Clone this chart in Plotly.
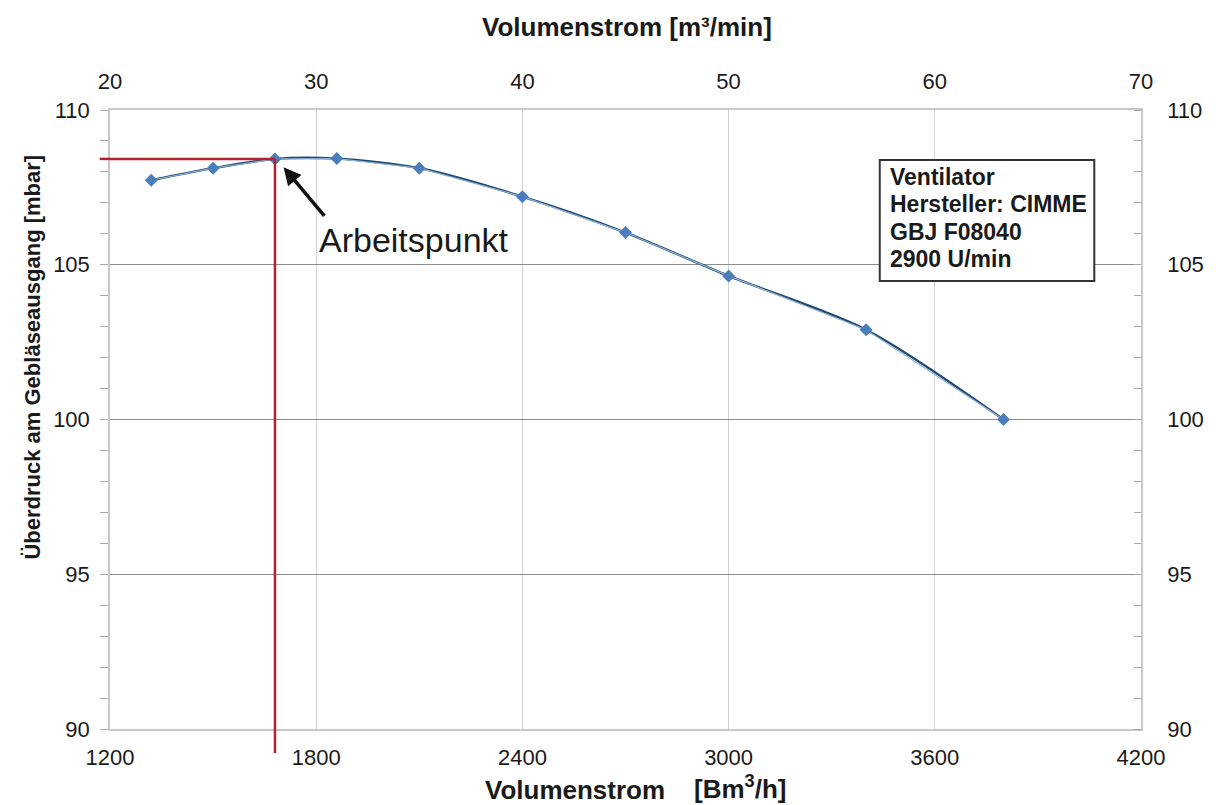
import plotly.graph_objects as go

# Fan characteristic: volume flow [Bm³/h] vs. pressure at blower outlet [mbar]
flow_m3h = [1320, 1500, 1680, 1860, 2100, 2400, 2700, 3000, 3400, 3800]
pressure_mbar = [107.73, 108.12, 108.42, 108.43, 108.12, 107.2, 106.04, 104.64, 102.9, 100.0]

# operating point
op_flow = 1680
op_pressure = 108.42

x_ticks_h = [1200, 1800, 2400, 3000, 3600, 4200]
x_ticks_min = [20, 30, 40, 50, 60, 70]
y_ticks = [90, 95, 100, 105, 110]

info_lines = ["Ventilator", "Hersteller: CIMME", "GBJ F08040", "2900 U/min"]

FONT = "Arial, Liberation Sans, sans-serif"
TXT = "#1a1a1a"

fig = go.Figure()

# smooth trend curve through the points
fig.add_trace(go.Scatter(
    x=flow_m3h, y=pressure_mbar, mode="lines",
    line=dict(color="#1F4A6E", width=2.4, shape="spline", smoothing=0.8),
    hoverinfo="skip", showlegend=False,
))
# measured points joined by straight segments
fig.add_trace(go.Scatter(
    x=flow_m3h, y=pressure_mbar, mode="lines+markers",
    line=dict(color="#8FB2D8", width=1.2),
    marker=dict(symbol="diamond", size=10, color="#4A7EBB"),
    showlegend=False,
))
# invisible trace to activate the top axis (m³/min)
fig.add_trace(go.Scatter(
    x=[v / 60 for v in flow_m3h], y=pressure_mbar, xaxis="x2", yaxis="y",
    mode="markers", marker=dict(opacity=0), hoverinfo="skip", showlegend=False,
))
# invisible trace to activate the right axis
fig.add_trace(go.Scatter(
    x=flow_m3h, y=pressure_mbar, yaxis="y2",
    mode="markers", marker=dict(opacity=0), hoverinfo="skip", showlegend=False,
))

RED = "#B3202E"
# operating point guide lines
fig.add_shape(type="line", xref="paper", yref="y", x0=-0.01, x1=0,
              y0=op_pressure, y1=op_pressure, line=dict(color=RED, width=2.5))
fig.add_shape(type="line", xref="x", yref="y", x0=1200, x1=op_flow,
              y0=op_pressure, y1=op_pressure, line=dict(color=RED, width=2.5))
fig.add_shape(type="line", xref="x", yref="paper", x0=op_flow, x1=op_flow,
              y0=-0.039, y1=0, line=dict(color=RED, width=2.5))
fig.add_shape(type="line", xref="x", yref="y", x0=op_flow, x1=op_flow,
              y0=90, y1=op_pressure, line=dict(color=RED, width=2.5))

# white backing behind the label (hides the grid, stays below the curve)
fig.add_shape(type="rect", xref="paper", yref="paper",
              x0=0.188, x1=0.402, y0=0.7415, y1=0.8708,
              fillcolor="white", line=dict(width=0), layer="between")

# operating point label with arrow
fig.add_annotation(
    x=op_flow + 25, y=op_pressure - 0.27, xref="x", yref="y",
    ax=42, ay=50, text="", showarrow=True, arrowhead=2, arrowsize=1.0,
    arrowwidth=3.5, arrowcolor="#111111",
)
fig.add_annotation(
    x=0.2948, y=0.790, xref="paper", yref="paper", xanchor="center", yanchor="middle",
    text="Arbeitspunkt", showarrow=False,
    font=dict(family=FONT, size=34, color=TXT),
)

# info box
fig.add_shape(type="rect", xref="paper", yref="paper",
              x0=0.7466, x1=0.9547, y0=0.7237, y1=0.9192,
              fillcolor="white", line=dict(color="#333333", width=2), layer="above")
for line_text, ypos in zip(info_lines, [0.8918, 0.8481, 0.8029, 0.7593]):
    fig.add_annotation(
        x=0.7543, y=ypos, xref="paper", yref="paper", xanchor="left", yanchor="middle",
        text=line_text, showarrow=False,
        font=dict(family=FONT, size=23, color=TXT, weight="bold"),
    )

title_font = dict(family=FONT, size=26, color=TXT, weight="bold")

# axis titles
fig.add_annotation(x=0.501, y=1.134, xref="paper", yref="paper",
                   xanchor="center", yanchor="middle", showarrow=False,
                   text="Volumenstrom [m³/min]", font=title_font)
fig.add_annotation(x=0.4509, y=-0.0985, xref="paper", yref="paper",
                   xanchor="center", yanchor="middle", showarrow=False,
                   text="Volumenstrom", font=title_font)
fig.add_annotation(x=0.611, y=-0.095, xref="paper", yref="paper",
                   xanchor="center", yanchor="middle", showarrow=False,
                   text="[Bm<sup>3</sup>/h]", font=title_font)
fig.add_annotation(x=-0.0751, y=0.601, xref="paper", yref="paper",
                   xanchor="center", yanchor="middle", showarrow=False, textangle=-90,
                   text="Überdruck am Gebläseausgang [mbar]",
                   font=dict(family=FONT, size=22, color=TXT, weight="bold"))

axis_font = dict(family=FONT, size=22, color=TXT)

fig.update_layout(
    width=1216, height=805,
    margin=dict(l=110, r=62, t=110, b=76),
    paper_bgcolor="white", plot_bgcolor="white",
    font=dict(family=FONT, color=TXT),
    xaxis=dict(
        range=[1200, 4200], tickvals=x_ticks_h, ticks="", ticklabelstandoff=8,
        showgrid=True, gridcolor="#D2D2D2", gridwidth=1,
        showline=True, linecolor="#C8C8C8", linewidth=1.5,
        tickfont=axis_font, zeroline=False,
    ),
    xaxis2=dict(
        range=[20, 70], tickvals=x_ticks_min, overlaying="x", side="top",
        ticks="", showgrid=False, showline=True, linecolor="#C8C8C8", linewidth=1.5,
        tickfont=axis_font, zeroline=False, ticklabelstandoff=10,
    ),
    yaxis=dict(
        range=[90, 110], tickvals=y_ticks, ticks="",
        showgrid=True, gridcolor="#8C8C8C", gridwidth=1.3,
        showline=True, linecolor="#C8C8C8", linewidth=1.5,
        minor=dict(dtick=1, ticks="outside", ticklen=8, tickcolor="#A8A8A8", showgrid=False),
        tickfont=axis_font, zeroline=False, ticklabelstandoff=14,
    ),
    yaxis2=dict(
        range=[90, 110], tickvals=y_ticks, overlaying="y", side="right",
        ticks="", showgrid=False, showline=True, linecolor="#C8C8C8", linewidth=1.5,
        minor=dict(dtick=1, ticks="inside", ticklen=7, tickcolor="#A8A8A8", showgrid=False),
        tickfont=axis_font, zeroline=False, ticklabelstandoff=20,
    ),
)

fig.write_html("out.html")
